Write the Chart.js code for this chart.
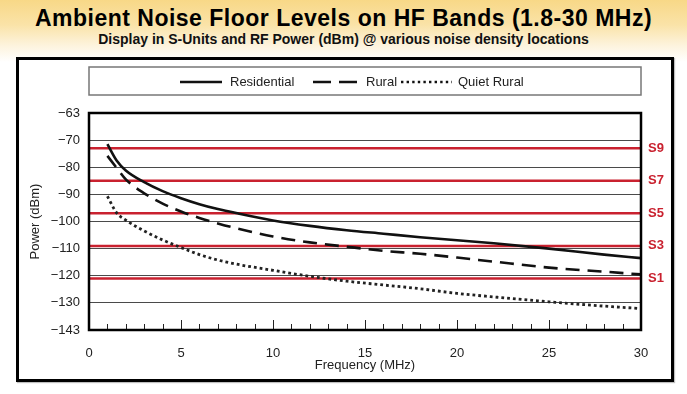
<!DOCTYPE html>
<html>
<head>
<meta charset="utf-8">
<script src="https://cdn.jsdelivr.net/npm/chart.js@4"></script>
<style>
  html, body { margin: 0; padding: 0; }
  body {
    width: 687px; height: 394px; position: relative; overflow: hidden;
    background: linear-gradient(to bottom, #f8d887 0px, #fae3a8 25px, #fdf3dc 45px, #ffffff 62px);
    font-family: "Liberation Sans", Arial, sans-serif;
  }
  .title {
    position: absolute; left: 0; width: 687px; top: 3px; text-align: center;
    font-size: 23px; letter-spacing: 0.5px; font-weight: bold; color: #000; line-height: 30px;
  }
  .subtitle {
    position: absolute; left: 0; width: 687px; top: 30px; text-align: center;
    font-size: 14px; font-weight: bold; color: #111; line-height: 18px;
  }
  .frame {
    position: absolute; left: 16px; top: 57px; width: 658px; height: 325px;
    box-sizing: border-box; border: 3px solid #000; background: #fff;
    box-shadow: 1px 1px 1px rgba(0,0,0,0.25);
  }
  #wrap { position: absolute; left: 0; top: 0; width: 687px; height: 394px; }
</style>
</head>
<body>
<div class="title">Ambient Noise Floor Levels on HF Bands (1.8-30 MHz)</div>
<div class="subtitle">Display in S-Units and RF Power (dBm) @ various noise density locations</div>
<div class="frame"></div>
<div id="wrap"><canvas id="chart"></canvas></div>
<script>
// frequency points (MHz) and noise floor (dBm)
const freqMHz = [1, 1.5, 2, 3, 4, 5, 6, 7, 8, 10, 12, 14, 16, 18, 20, 22, 25, 28, 30];
const residential = [-71.5, -77.5, -81.2, -85.5, -88.8, -91.4, -93.6, -95.4, -96.9, -99.6, -101.6, -103.2, -104.5, -105.8, -106.9, -108.0, -110.0, -112.2, -113.5];
const rural = [-75.8, -80.2, -84.5, -89.6, -93.4, -96.3, -98.7, -100.7, -102.5, -105.5, -107.7, -109.3, -110.8, -111.9, -113.3, -114.8, -117.0, -118.5, -119.5];
const quietRural = [-90.7, -96.8, -99.5, -103.5, -106.8, -109.6, -112.2, -114.2, -115.7, -118.0, -120.2, -122.0, -123.4, -124.8, -126.5, -127.8, -129.6, -131.2, -132.1];

// S-unit reference levels
const sUnitLabels = ['S9', 'S7', 'S5', 'S3', 'S1'];
const sUnitLevels = [-73, -85, -97, -109, -121];

const RED = '#c9212f';
const FONT = '"Liberation Sans", Arial, sans-serif';

const toXY = (ys) => freqMHz.map((f, i) => ({x: f, y: ys[i]}));

const curveDatasets = [
    {label: 'Residential', data: toXY(residential), borderColor: '#111', borderWidth: 2.6, borderDash: [], legendDash: []},
    {label: 'Rural', data: toXY(rural), borderColor: '#111', borderWidth: 2.6, borderDash: [14, 8], legendDash: [18, 8]},
    {label: 'Quiet Rural', data: toXY(quietRural), borderColor: '#222', borderWidth: 2.8, borderDash: [2.8, 3], legendDash: [2.4, 3.2]}
].map(d => Object.assign(d, {pointRadius: 0, cubicInterpolationMode: 'monotone', fill: false, order: 1}));

const sUnitDatasets = sUnitLevels.map((lvl, i) => ({
    label: sUnitLabels[i],
    data: [{x: 0, y: lvl}, {x: 30, y: lvl}],
    borderColor: RED, borderWidth: 2.5, pointRadius: 0, order: 2
}));

// frame around plot area, inner tick marks, legend box
const decorations = {
    id: 'decorations',
    afterDatasetsDraw(chart) {
        const {ctx, chartArea: a, scales: {x}} = chart;
        ctx.save();
        // minor / major tick marks standing up from the bottom
        ctx.strokeStyle = '#222';
        ctx.lineWidth = 1;
        for (let v = 1; v < 30; v++) {
            const px = Math.round(x.getPixelForValue(v)) + 0.5;
            const len = v % 5 === 0 ? 10 : 6;
            ctx.beginPath();
            ctx.moveTo(px, a.bottom);
            ctx.lineTo(px, a.bottom - len);
            ctx.stroke();
        }
        ctx.strokeStyle = '#000';
        ctx.lineWidth = 2.5;
        ctx.strokeRect(a.left, a.top, a.right - a.left, a.bottom - a.top);

        // legend
        const top = 67, bottom = 95, mid = 82;
        ctx.strokeStyle = '#777';
        ctx.lineWidth = 1.5;
        ctx.strokeRect(a.left, top, a.right - a.left, bottom - top);
        ctx.font = '13px ' + FONT;
        ctx.fillStyle = '#222';
        ctx.textBaseline = 'middle';
        const items = [
            {ds: curveDatasets[0], x0: 180, x1: 222, tx: 230},
            {ds: curveDatasets[1], x0: 313, x1: 357, tx: 366},
            {ds: curveDatasets[2], x0: 401, x1: 452, tx: 458}
        ];
        items.forEach(it => {
            ctx.strokeStyle = '#111';
            ctx.lineWidth = 2.4;
            ctx.setLineDash(it.ds.legendDash);
            ctx.beginPath();
            ctx.moveTo(it.x0, mid);
            ctx.lineTo(it.x1, mid);
            ctx.stroke();
            ctx.setLineDash([]);
            ctx.fillText(it.ds.label, it.tx, mid);
        });
        ctx.restore();
    }
};

const chart = new Chart(document.getElementById('chart'), {
    type: 'line',
    data: {datasets: [...sUnitDatasets, ...curveDatasets]},
    options: {
        responsive: true,
        maintainAspectRatio: false,
        animation: false,
        layout: {padding: {top: 113, left: 24, right: 0, bottom: 17}},
        plugins: {legend: {display: false}, tooltip: {enabled: false}},
        scales: {
            x: {
                type: 'linear', min: 0, max: 30,
                ticks: {stepSize: 5, color: '#222', padding: 8, font: {size: 13, family: FONT}},
                grid: {display: false},
                border: {display: false},
                title: {display: true, text: 'Frequency (MHz)', color: '#222', padding: 4, font: {size: 13, family: FONT}},
                afterFit(scale) { scale.height = 47; }
            },
            y: {
                min: -140, max: -60,
                ticks: {
                    stepSize: 10, color: '#222', padding: 9,
                    font: {size: 13, family: FONT},
                    callback(v) {
                        if (v === -60) return '\u221263';
                        if (v === -140) return '\u2212143';
                        return '\u2212' + Math.abs(v);
                    }
                },
                grid: {color: (c) => (c.tick && (c.tick.value === -60 || c.tick.value === -140)) ? 'rgba(0,0,0,0)' : '#4a4a4a', lineWidth: 1, drawTicks: false},
                border: {display: false},
                title: {display: true, text: 'Power (dBm)', color: '#222', padding: 4, font: {size: 13, family: FONT}},
                afterFit(scale) { scale.width = 65; }
            },
            y2: {
                position: 'right', min: -140, max: -60,
                afterBuildTicks(scale) { scale.ticks = sUnitLevels.map(v => ({value: v})); },
                ticks: {
                    color: RED, padding: 7,
                    font: {size: 13, weight: 'bold', family: FONT},
                    callback(v) { return sUnitLabels[sUnitLevels.indexOf(v)]; }
                },
                grid: {drawOnChartArea: false, drawTicks: false},
                border: {display: false},
                afterFit(scale) { scale.width = 46; }
            }
        }
    },
    plugins: [decorations]
});
</script>
</body>
</html>
